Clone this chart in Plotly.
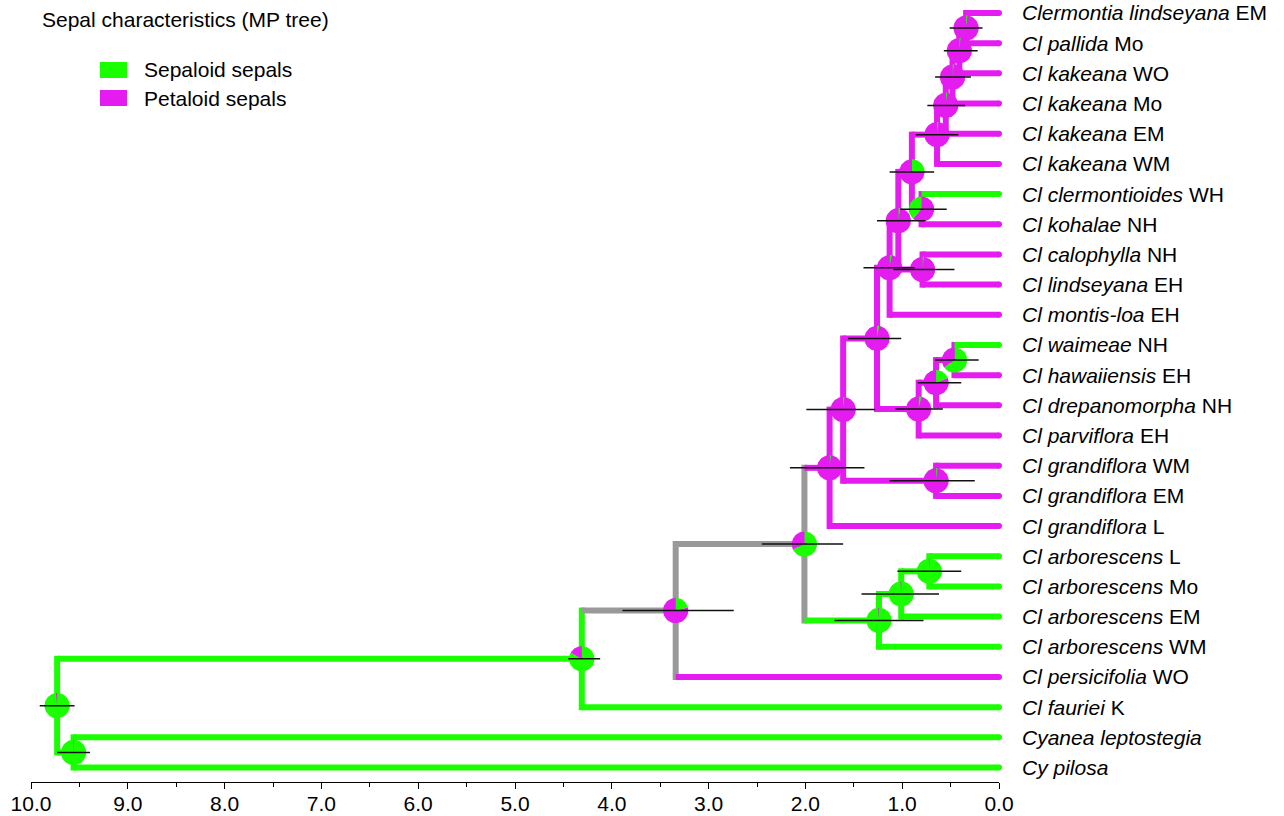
import math
import plotly.graph_objects as go

# ---------------- data ----------------
tip_species = ["Clermontia lindseyana", "Cl pallida", "Cl kakeana", "Cl kakeana", "Cl kakeana",
               "Cl kakeana", "Cl clermontioides", "Cl kohalae", "Cl calophylla", "Cl lindseyana",
               "Cl montis-loa", "Cl waimeae", "Cl hawaiiensis", "Cl drepanomorpha", "Cl parviflora",
               "Cl grandiflora", "Cl grandiflora", "Cl grandiflora", "Cl arborescens", "Cl arborescens",
               "Cl arborescens", "Cl arborescens", "Cl persicifolia", "Cl fauriei",
               "Cyanea leptostegia", "Cy pilosa"]
tip_locality = ["EM", "Mo", "WO", "Mo", "EM", "WM", "WH", "NH", "NH", "EH", "EH", "NH", "EH", "NH",
                "EH", "WM", "EM", "L", "L", "Mo", "EM", "WM", "WO", "K", "", ""]
# S = sepaloid (green), P = petaloid (magenta)
tip_state = ["P", "P", "P", "P", "P", "P", "S", "P", "P", "P", "P", "S", "P", "P", "P", "P", "P",
             "P", "S", "S", "S", "S", "P", "S", "S", "S"]

node_names = ["X", "W", "V", "U", "S", "T", "Q", "O", "R", "J", "M", "L", "K", "H", "I", "G", "E",
              "F3", "F2", "F", "D", "C", "A", "B", "root"]
node_children = [["t0", "t1"], ["X", "t2"], ["W", "t3"], ["V", "t4"], ["U", "t5"], ["t6", "t7"],
                 ["S", "T"], ["t8", "t9"], ["Q", "O"], ["R", "t10"], ["t11", "t12"], ["M", "t13"],
                 ["L", "t14"], ["J", "K"], ["t15", "t16"], ["H", "I"], ["G", "t17"], ["t18", "t19"],
                 ["F3", "t20"], ["F2", "t21"], ["E", "F"], ["D", "t22"], ["C", "t23"], ["t24", "t25"],
                 ["A", "B"]]
node_age = [0.34, 0.41, 0.48, 0.55, 0.64, 0.80, 0.90, 0.79, 1.04, 1.13, 0.46, 0.65, 0.83, 1.26,
            0.65, 1.61, 1.75, 0.72, 1.01, 1.24, 2.01, 3.34, 4.31, 9.56, 9.73]
node_err_old = [0.51, 0.57, 0.66, 0.74, 0.86, 1.02, 1.13, 1.09, 1.26, 1.40, 0.66, 0.84, 1.07, 1.56,
                1.13, 1.99, 2.16, 1.05, 1.42, 1.70, 2.45, 3.89, 4.45, 9.73, 9.91]
node_err_young = [0.17, 0.22, 0.29, 0.35, 0.42, 0.54, 0.67, 0.46, 0.76, 0.87, 0.21, 0.39, 0.58,
                  1.01, 0.25, 1.28, 1.39, 0.39, 0.62, 0.78, 1.61, 2.74, 4.12, 9.39, 9.55]
node_p_sepaloid = [0.02, 0.02, 0.02, 0.02, 0.02, 0.38, 0.25, 0.02, 0.03, 0.03, 0.65, 0.19, 0.04,
                   0.03, 0.02, 0.02, 0.02, 0.99, 0.99, 0.99, 0.68, 0.21, 0.83, 0.99, 0.985]
node_state = ["P", "P", "P", "P", "P", "P", "P", "P", "P", "P", "P", "P", "P", "P", "P", "P", "P",
              "S", "S", "S", "?", "?", "S", "S", "S"]
# slice order: True -> sepaloid slice first (clockwise from 12 o'clock)
node_sep_first = [True, True, True, True, True, False, True, True, True, True, True, True, True,
                  True, True, True, True, True, True, True, True, True, True, True, True]

x_ticks = [10.0, 9.0, 8.0, 7.0, 6.0, 5.0, 4.0, 3.0, 2.0, 1.0, 0.0]

# ---------------- styling ----------------
GREEN = "#1aff00"
MAGENTA = "#e41cf0"
GRAY = "#999999"
COL = {"S": GREEN, "P": MAGENTA, "?": GRAY}
FONT = "Liberation Sans, Arial, sans-serif"

W, H = 1284, 816
ML, MR, MT, MB = 31, 285, 0, 34
XR = [10.0, 0.0]
YR = [25.48, -0.43]
plot_w = W - ML - MR
plot_h = H - MT - MB
pxx = plot_w / abs(XR[0] - XR[1])
pxy = plot_h / abs(YR[0] - YR[1])
LW = 6
PIE_R = 12.7

# ---------------- tree geometry ----------------
pos = {}
state = {}
for i in range(len(tip_species)):
    pos["t%d" % i] = (0.0, float(i))
    state["t%d" % i] = tip_state[i]
for k, n in enumerate(node_names):
    ys = [pos[c][1] for c in node_children[k]]
    pos[n] = (node_age[k], (min(ys) + max(ys)) / 2.0)
    state[n] = node_state[k]

vert = {"S": ([], []), "P": ([], []), "?": ([], [])}
horiz = {"S": ([], []), "P": ([], []), "?": ([], [])}
ext = (LW / 2) / pxy
for k, n in enumerate(node_names):
    x0, _ = pos[n]
    ys = [pos[c][1] for c in node_children[k]]
    vx, vy = vert[state[n]]
    vx += [x0, x0, None]
    vy += [min(ys) - ext, max(ys) + ext, None]
    for c in node_children[k]:
        cx, cy = pos[c]
        hx, hy = horiz[state[c]]
        hx += [x0, cx, None]
        hy += [cy, cy, None]

fig = go.Figure()
for dct in (vert, horiz):
    for s in ("?", "S", "P"):
        xs, ys = dct[s]
        if xs:
            fig.add_trace(go.Scatter(x=xs, y=ys, mode="lines", line=dict(color=COL[s], width=LW),
                                     hoverinfo="skip", showlegend=False, cliponaxis=False))

# rounded tip ends
fig.add_trace(go.Scatter(x=[0.0] * len(tip_state), y=list(range(len(tip_state))), mode="markers",
                         marker=dict(size=LW, color=[COL[s] for s in tip_state], line=dict(width=0)),
                         hoverinfo="skip", showlegend=False, cliponaxis=False))


def wedge(cx, cy, a0, a1):
    xs, ys = [cx], [cy]
    n = max(2, int(120 * (a1 - a0)) + 2)
    for j in range(n + 1):
        t = 2 * math.pi * (a0 + (a1 - a0) * j / n)
        xs.append(cx - PIE_R * math.sin(t) / pxx)
        ys.append(cy - PIE_R * math.cos(t) / pxy)
    xs.append(cx)
    ys.append(cy)
    return xs, ys


for k, n in enumerate(node_names):
    cx, cy = pos[n]
    g = node_p_sepaloid[k]
    if node_sep_first[k]:
        slices = [(0.0, g, GREEN), (g, 1.0, MAGENTA)]
    else:
        slices = [(0.0, 1.0 - g, MAGENTA), (1.0 - g, 1.0, GREEN)]
    for a0, a1, c in slices:
        if a1 - a0 <= 0:
            continue
        xs, ys = wedge(cx, cy, a0, a1)
        fig.add_trace(go.Scatter(x=xs, y=ys, mode="lines", fill="toself", fillcolor=c,
                                 line=dict(width=0, color=c), hoverinfo="skip",
                                 showlegend=False, cliponaxis=False))

# error bars
ex, ey = [], []
for k, n in enumerate(node_names):
    ex += [node_err_old[k], node_err_young[k], None]
    ey += [pos[n][1], pos[n][1], None]
fig.add_trace(go.Scatter(x=ex, y=ey, mode="lines", line=dict(color="#111111", width=1.5),
                         hoverinfo="skip", showlegend=False, cliponaxis=False))

# tip labels
for i, (sp, loc) in enumerate(zip(tip_species, tip_locality)):
    txt = "<i>%s</i>" % sp + (" " + loc if loc else "")
    fig.add_annotation(x=0.0, y=i, xref="x", yref="y", text=txt, showarrow=False,
                       xanchor="left", yanchor="middle", xshift=21,
                       font=dict(family=FONT, size=21, color="black"))

# legend (manual)
legend_items = [("Sepaloid sepals", GREEN), ("Petaloid sepals", MAGENTA)]
for j, (lab, c) in enumerate(legend_items):
    top = 62 + j * 28
    fig.add_shape(type="rect", xref="paper", yref="paper",
                  x0=(100 - ML) / plot_w, x1=(127 - ML) / plot_w,
                  y0=1 - (top - MT) / plot_h, y1=1 - (top + 16 - MT) / plot_h,
                  fillcolor=c, line=dict(width=0))
    fig.add_annotation(x=(142 - ML) / plot_w, y=1 - (top + 8 - MT) / plot_h, xref="paper",
                       yref="paper", text=lab, showarrow=False, xanchor="left", yanchor="middle",
                       font=dict(family=FONT, size=21, color="black"))

fig.update_layout(
    width=W, height=H,
    margin=dict(l=ML, r=MR, t=MT, b=MB, autoexpand=False),
    paper_bgcolor="white", plot_bgcolor="white",
    title=dict(text="Sepal characteristics (MP tree)", x=42 / W, xanchor="left", xref="container",
               y=1 - 20 / H, yanchor="middle", yref="container",
               font=dict(family=FONT, size=21, color="black")),
    xaxis=dict(range=XR, tickvals=x_ticks, tickformat=".1f", showgrid=False, zeroline=False,
               showline=True, linecolor="black", linewidth=1, ticks="outside", ticklen=6,
               tickwidth=1, tickcolor="black", ticklabelstandoff=-3,
               tickfont=dict(family=FONT, size=21, color="black"),
               minor=dict(dtick=0.5, tick0=0, ticks="outside", ticklen=4, tickcolor="black",
                          showgrid=False)),
    yaxis=dict(range=YR, visible=False, showgrid=False, zeroline=False),
    showlegend=False,
)

fig.write_html("out.html", config={"displayModeBar": False},
               post_script="document.body.style.margin='0';document.body.style.overflow='hidden';")
